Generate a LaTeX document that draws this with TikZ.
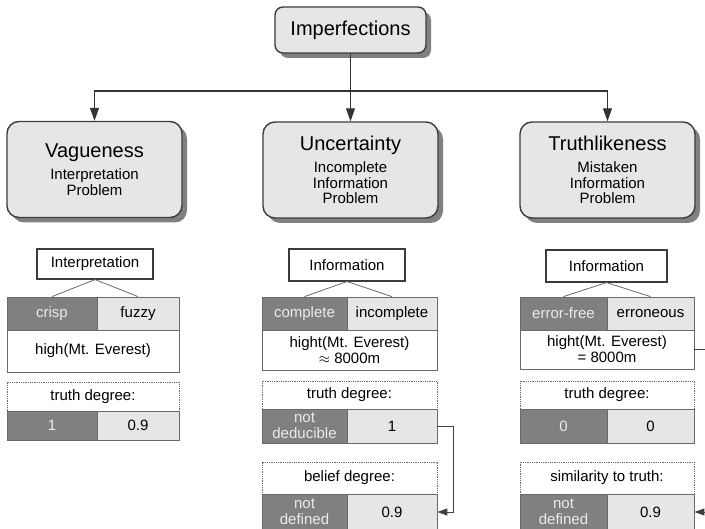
\documentclass[tikz,border=0pt]{standalone}
\usepackage{fontspec}
\setmainfont{Liberation Sans}
\usetikzlibrary{arrows.meta,shadows}
\definecolor{boxgray}{HTML}{E6E6E6}
\definecolor{cellgray}{HTML}{808080}
\definecolor{edgegray}{HTML}{3C3C3C}
\definecolor{linegray}{HTML}{6A6A6A}

\begin{document}
\begin{tikzpicture}[x=1pt, y=-1pt,
    topicbox/.style={draw=edgegray, line width=1.4pt, rounded corners=12pt, fill=boxgray,
      align=center, inner sep=0pt, minimum width=175pt, minimum height=96pt,
      font=\fontsize{15}{15.5}\selectfont,
      drop shadow={shadow xshift=5pt, shadow yshift=-5pt, fill=black!55, opacity=0.9}},
    tagbox/.style={draw=edgegray, line width=1.1pt, fill=white, inner sep=0pt,
      font=\fontsize{15}{16}\selectfont},
    cellbox/.style={draw=linegray, line width=0.8pt, inner sep=0pt, align=center,
      font=\fontsize{15}{16}\selectfont},
    darkcell/.style={cellbox, fill=cellgray, text=black!8},
    lightcell/.style={cellbox, fill=boxgray},
    whitecell/.style={cellbox, fill=white},
    headcell/.style={cellbox, fill=white, densely dotted},
    branch/.style={draw=linegray, line width=0.8pt},
    link/.style={-{Triangle[length=13pt,width=9pt]}, line width=1.1pt, draw=black!80},
    smalllink/.style={-{Triangle[length=10pt,width=7pt]}, line width=0.9pt, draw=black!75},
  ]
  \useasboundingbox (0,0) rectangle (705,529);
  \clip (0,0) rectangle (705,529);

  % Top
  \node[topicbox, rounded corners=8pt, minimum width=151pt, minimum height=46pt,
    font=\fontsize{20}{22}\selectfont] (imp) at (350.5,30) {Imperfections};

  % Kinds of imperfection
  \node[topicbox] (vag) at (94.5,169.5)
    {{\fontsize{20}{22}\selectfont Vagueness}\\[7pt] Interpretation\\ Problem};
  \node[topicbox] (unc) at (350.5,170)
    {{\fontsize{20}{22}\selectfont Uncertainty}\\[7pt] Incomplete\\ Information\\ Problem};
  \node[topicbox] (tru) at (607.5,170)
    {{\fontsize{20}{22}\selectfont Truthlikeness}\\[7pt] Mistaken\\ Information\\ Problem};

  % Arrows
  \coordinate (bus) at (350.5,91);
  \draw[link] (imp) -- (unc);
  \draw[link] (bus) -| (vag);
  \draw[link] (bus) -| (tru);

  % Vagueness column
  \node[tagbox, minimum width=116pt, minimum height=30pt] (vtag) at (95,264) {Interpretation};
  \node[darkcell, minimum width=90pt, minimum height=33pt] (crisp) at (52,313.5) {crisp};
  \node[lightcell, minimum width=82pt, minimum height=33pt] (fuzzy) at (138,313.5) {fuzzy};
  \node[whitecell, minimum width=172pt, minimum height=42pt] (vhigh) at (93,351) {high(Mt. Everest)};
  \node[headcell, minimum width=172pt, minimum height=29pt] (vtd) at (93,396.5) {truth degree:};
  \node[darkcell, minimum width=90pt, minimum height=29pt] (vone) at (52,425.5) {1};
  \node[lightcell, minimum width=82pt, minimum height=29pt] (vfuzzy) at (138,425.5) {0.9};
  \draw[branch] (vtag.south) -- (crisp.north);
  \draw[branch] (vtag.south) -- (fuzzy.north);

  % Uncertainty column
  \node[tagbox, minimum width=116pt, minimum height=32pt] (utag) at (347,265) {Information};
  \node[darkcell, minimum width=85pt, minimum height=33pt] (complete) at (304.5,313.5) {complete};
  \node[lightcell, minimum width=90pt, minimum height=33pt] (incomplete) at (392,313.5) {incomplete};
  \node[whitecell, minimum width=175pt, minimum height=40pt] (uhight) at (349.5,350) {hight(Mt. Everest)\\$\approx$ 8000m};
  \node[headcell, minimum width=175pt, minimum height=28pt] (utd) at (349.5,395) {truth degree:};
  \node[darkcell, minimum width=85pt, minimum height=34pt] (unotded) at (304.5,426) {not\\deducible};
  \node[lightcell, minimum width=90pt, minimum height=34pt] (uone) at (392,426) {1};
  \node[headcell, minimum width=175pt, minimum height=32pt] (ubd) at (349.5,478) {belief degree:};
  \node[darkcell, minimum width=85pt, minimum height=36pt] (unotdef) at (304.5,512) {not\\defined};
  \node[lightcell, minimum width=90pt, minimum height=36pt] (ubelief) at (392,512) {0.9};
  \draw[branch] (utag.south) -- (complete.north);
  \draw[branch] (utag.south) -- (incomplete.north);
  \draw[smalllink] (uone.east) -- ++(16,0) |- (ubelief.east);

  % Truthlikeness column
  \node[tagbox, minimum width=121pt, minimum height=32pt] (ttag) at (606.5,266) {Information};
  \node[darkcell, minimum width=87pt, minimum height=33pt] (errfree) at (563.5,313.5) {error-free};
  \node[lightcell, minimum width=87pt, minimum height=33pt] (erroneous) at (650.5,313.5) {erroneous};
  \node[whitecell, minimum width=174pt, minimum height=39pt] (thight) at (607,349.5) {hight(Mt. Everest)\\= 8000m};
  \node[headcell, minimum width=174pt, minimum height=28pt] (ttd) at (607,395) {truth degree:};
  \node[darkcell, minimum width=87pt, minimum height=34pt] (tzero) at (563.5,426) {0};
  \node[lightcell, minimum width=87pt, minimum height=34pt] (tzerob) at (650.5,426) {0};
  \node[headcell, minimum width=174pt, minimum height=32pt] (tsim) at (607,478) {similarity to truth:};
  \node[darkcell, minimum width=87pt, minimum height=36pt] (tnotdef) at (563.5,512) {not\\defined};
  \node[lightcell, minimum width=87pt, minimum height=36pt] (tsimval) at (650.5,512) {0.9};
  \draw[branch] (ttag.south) -- (errfree.north);
  \draw[branch] (ttag.south) -- (erroneous.north);
  \draw[smalllink] (thight.east) -- ++(20,0) |- (tsimval.east);
\end{tikzpicture}
\end{document}
